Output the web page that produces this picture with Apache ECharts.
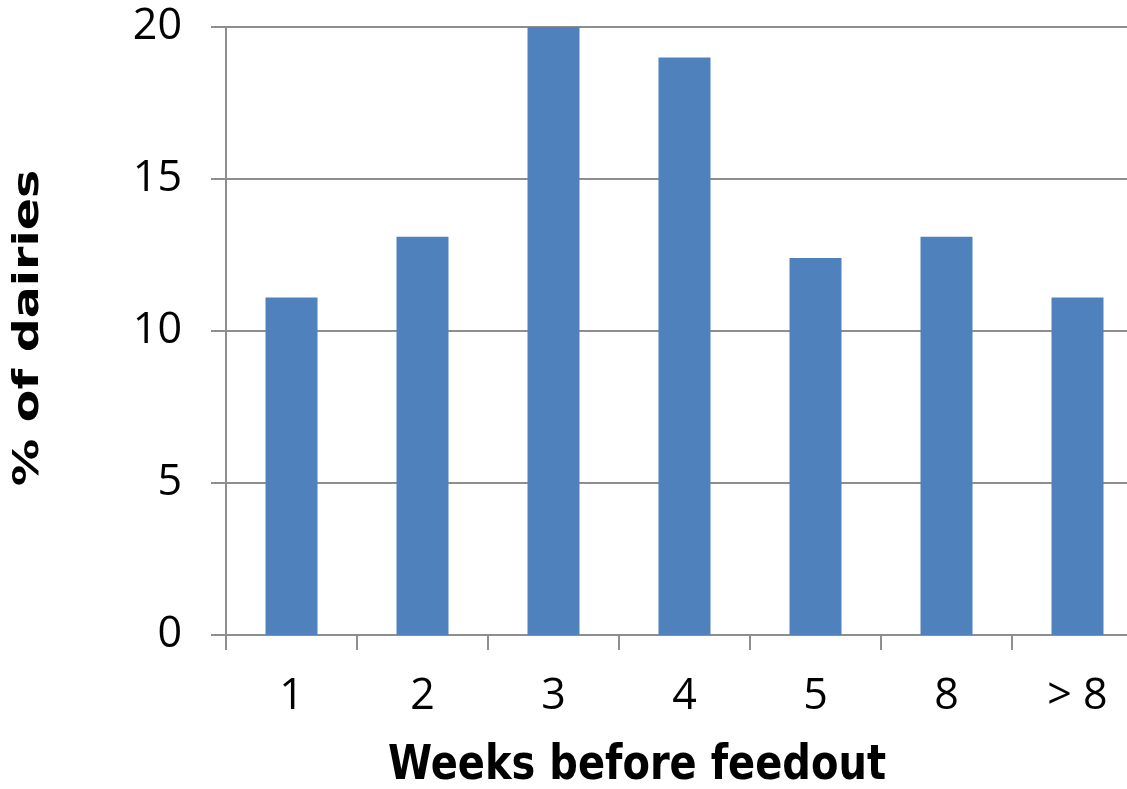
<!DOCTYPE html>
<html>
<head>
<meta charset="utf-8">
<script src="https://cdn.jsdelivr.net/npm/echarts@6/dist/echarts.min.js"></script>
<style>
html,body{margin:0;padding:0;background:#fff;}
#chart{width:1127px;height:789px;}
</style>
</head>
<body>
<div id="chart"></div>
<script>
const categories = ['1', '2', '3', '4', '5', '8', '> 8'];
const values = [11.1, 13.1, 20, 19, 12.4, 13.1, 11.1];
const yTicks = [0, 5, 10, 15, 20];
const xTitle = 'Weeks before feedout';
const yTitle = '% of dairies';

const axisColor = '#8E8E8E';
const chart = echarts.init(document.getElementById('chart'), null, {renderer: 'canvas'});
chart.setOption({
  animation: false,
  backgroundColor: '#ffffff',
  graphic: [
    {
      type: 'text',
      x: 637,
      y: 767,
      scaleY: 1.2,
      style: {
        text: xTitle,
        fontFamily: 'DejaVu Sans',
        fontWeight: 'bold',
        fontSize: 40,
        fill: '#000',
        align: 'center', verticalAlign: 'middle'
      }
    },
    {
      type: 'text',
      x: 29,
      y: 328,
      rotation: Math.PI / 2,
      scaleX: 1.32,
      style: {
        text: yTitle,
        fontFamily: 'DejaVu Sans',
        fontWeight: 'bold',
        fontSize: 36,
        fill: '#000',
        align: 'center', verticalAlign: 'middle'
      }
    }
  ],
  grid: {left: 226, right: -16, top: 27, bottom: 154, containLabel: false, outerBoundsMode: 'none'},
  xAxis: {
    type: 'category',
    data: categories,
    boundaryGap: true,
    axisLine: {show: true, lineStyle: {color: axisColor, width: 2}},
    axisTick: {show: true, length: 15, alignWithLabel: false, lineStyle: {color: axisColor, width: 2}},
    axisLabel: {margin: 40, fontFamily: 'Open Sans', fontSize: 43, color: '#000'},
    splitLine: {show: false}
  },
  yAxis: {
    type: 'value',
    min: yTicks[0],
    max: yTicks[yTicks.length - 1],
    interval: 5,
    axisLine: {show: true, lineStyle: {color: axisColor, width: 2}},
    axisTick: {show: true, length: 15, lineStyle: {color: axisColor, width: 2}},
    axisLabel: {margin: 44, fontFamily: 'Open Sans', fontSize: 43, color: '#000'},
    splitLine: {show: true, lineStyle: {color: axisColor, width: 2}}
  },
  series: [{
    type: 'bar',
    data: values,
    barWidth: 52,
    itemStyle: {color: '#4F81BD'}
  }]
});
</script>
</body>
</html>
